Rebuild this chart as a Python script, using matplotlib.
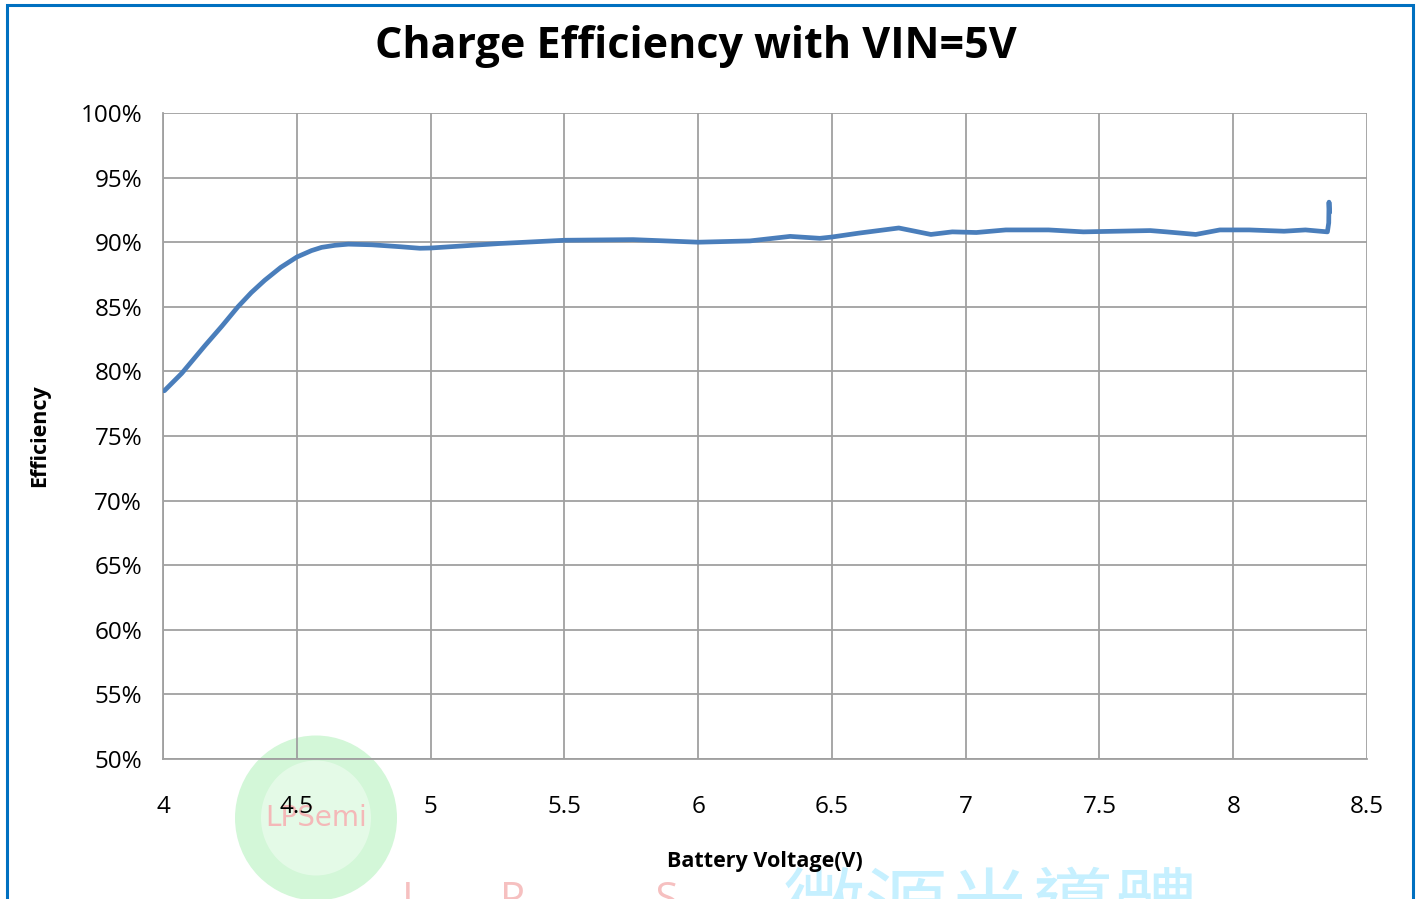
import matplotlib
matplotlib.use("Agg")
import matplotlib.pyplot as plt
from matplotlib.patches import Rectangle, Ellipse
from matplotlib.ticker import PercentFormatter

# battery voltage (V) and charge efficiency (%)
voltage = [4.005, 4.07, 4.157, 4.22, 4.28, 4.33, 4.38, 4.44, 4.50, 4.555,
           4.593, 4.643, 4.693, 4.78, 4.886, 4.96, 5.0, 5.26, 5.5, 5.757,
           6.0, 6.194, 6.344, 6.455, 6.5, 6.6, 6.75, 6.87, 6.95, 7.04,
           7.15, 7.31, 7.44, 7.69, 7.75, 7.86, 7.95, 8.06, 8.19, 8.27,
           8.352, 8.357, 8.358, 8.36]
efficiency = [78.5, 79.85, 82.0, 83.5, 85.0, 86.1, 87.05, 88.05, 88.85, 89.35,
              89.6, 89.76, 89.85, 89.8, 89.65, 89.53, 89.55, 89.9, 90.15, 90.2,
              90.0, 90.1, 90.45, 90.3, 90.4, 90.7, 91.1, 90.6, 90.8, 90.75,
              90.95, 90.95, 90.8, 90.9, 90.8, 90.6, 90.95, 90.95, 90.85, 90.95,
              90.8, 91.5, 93.1, 92.3]

x_ticks = [4, 4.5, 5, 5.5, 6, 6.5, 7, 7.5, 8, 8.5]
x_labels = ["4", "4.5", "5", "5.5", "6", "6.5", "7", "7.5", "8", "8.5"]
y_ticks = [50, 55, 60, 65, 70, 75, 80, 85, 90, 95, 100]

W, H = 1421, 899
fig = plt.figure(figsize=(W / 100, H / 100), dpi=100)
plt.rcParams["font.family"] = ["Open Sans", "DejaVu Sans"]

# faint watermark behind the chart
wm = fig.add_axes([0, 0, 1, 1], zorder=0)
wm.set_xlim(0, W)
wm.set_ylim(H, 0)
wm.axis("off")
wm.add_patch(Ellipse((316, 818), 162, 165, color="#c8f5cf", alpha=0.8, lw=0))
wm.add_patch(Ellipse((316, 818), 110, 115, color="#e6fbe9", alpha=0.9, lw=0))
wm.text(316, 818, "LPSemi", color="#f4b8b8", fontsize=20, ha="center", va="center",
        family="DejaVu Sans Condensed")
wm.text(990, 870, "微源半導體", color="#c6f0ff", fontsize=60, ha="center", va="top",
        family=["Noto Sans CJK TC", "DejaVu Sans"])
wm.text(540, 880, "L       P            S", color="#f6c0c0", fontsize=30, ha="center", va="top")

ax = fig.add_axes([163 / W, 1 - 759 / H, (1367 - 163) / W, (759 - 113) / H], zorder=1)
ax.patch.set_alpha(0)
ax.plot(voltage, efficiency, color="#4a7ebb", lw=3.4, solid_joinstyle="round",
        solid_capstyle="round", zorder=3)

ax.set_xlim(4, 8.5)
ax.set_ylim(50, 100)
ax.set_xticks(x_ticks)
ax.set_xticklabels(x_labels)
ax.set_yticks(y_ticks)
ax.yaxis.set_major_formatter(PercentFormatter(decimals=0))
ax.grid(True, color="#a0a0a0", lw=1.3)
ax.set_axisbelow(True)
for side in ["top", "right"]:
    ax.spines[side].set_visible(False)
for side in ["left", "bottom"]:
    ax.spines[side].set_color("#a0a0a0")
    ax.spines[side].set_linewidth(1.3)
ax.tick_params(length=0, labelsize=17.5, colors="#000000")
ax.tick_params(axis="x", pad=26)
ax.tick_params(axis="y", pad=15)

ax.set_xlabel("Battery Voltage(V)", fontsize=15.5, fontweight="bold", labelpad=23)
ax.set_ylabel("Efficiency", fontsize=15.5, fontweight="bold", labelpad=22)

fig.text(0.49, 1 - 46 / H, "Charge Efficiency with VIN=5V", fontsize=31,
         fontweight="bold", ha="center", va="center")

# blue frame around the chart
fig.patches.append(Rectangle((7 / W, -0.05), (1413 - 7) / W, 1.05 - 5 / H,
                             transform=fig.transFigure, fill=False,
                             edgecolor="#0070c0", lw=2.2, zorder=5))

fig.savefig("out.png", dpi=100)
